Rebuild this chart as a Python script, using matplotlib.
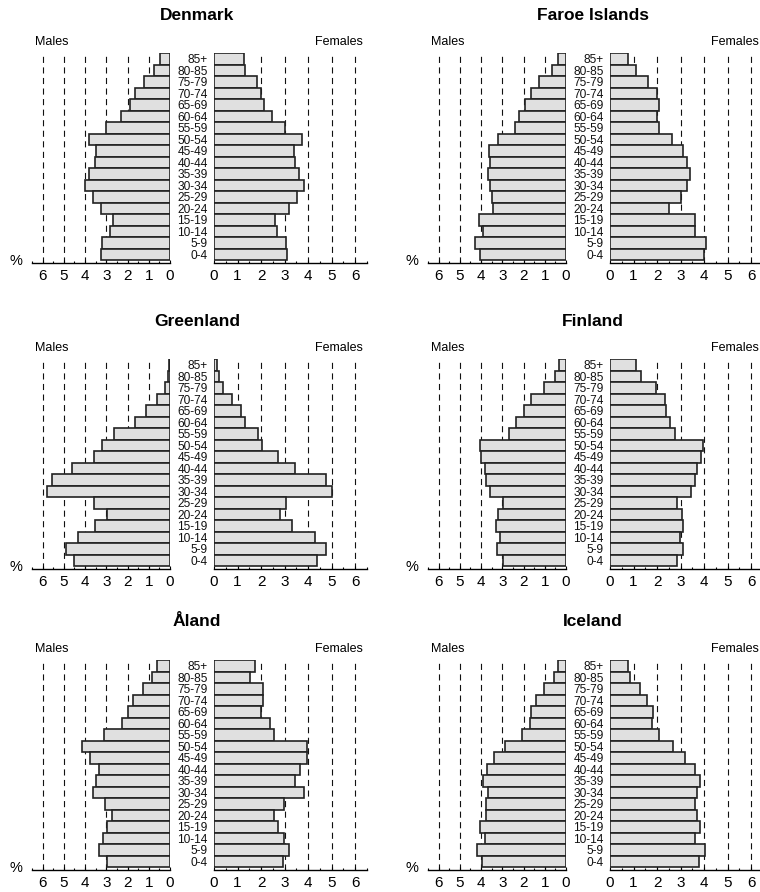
import matplotlib

matplotlib.use("Agg")
import matplotlib.pyplot as plt
import matplotlib.transforms as mtransforms
import numpy as np

plt.rcParams["font.family"] = ["Liberation Sans", "DejaVu Sans"]

# age groups, top of pyramid first
ages = ["85+", "80-85", "75-79", "70-74", "65-69", "60-64", "55-59", "50-54",
        "45-49", "40-44", "35-39", "30-34", "25-29", "20-24", "15-19", "10-14",
        "5-9", "0-4"]

countries = ["Denmark", "Faroe Islands", "Greenland", "Finland", "Åland", "Iceland"]

# percent of population, same order as ages
denmark_m = [0.47, 0.74, 1.24, 1.63, 1.90, 2.32, 3.03, 3.81, 3.47, 3.53, 3.80, 4.02,
             3.64, 3.27, 2.68, 2.81, 3.22, 3.27]
denmark_f = [1.28, 1.30, 1.83, 2.00, 2.14, 2.45, 3.01, 3.73, 3.39, 3.42, 3.63, 3.82,
             3.52, 3.18, 2.61, 2.67, 3.06, 3.11]
faroe_m = [0.39, 0.65, 1.28, 1.67, 1.95, 2.20, 2.38, 3.18, 3.62, 3.57, 3.67, 3.57,
           3.48, 3.45, 4.09, 3.91, 4.30, 4.03]
faroe_f = [0.75, 1.10, 1.61, 1.99, 2.07, 2.01, 2.08, 2.64, 3.09, 3.25, 3.40, 3.29,
           3.02, 2.51, 3.60, 3.59, 4.06, 3.99]
greenland_m = [0.03, 0.08, 0.25, 0.60, 1.11, 1.63, 2.62, 3.22, 3.58, 4.62, 5.54, 5.81,
               3.56, 2.98, 3.52, 4.35, 4.90, 4.54]
greenland_f = [0.11, 0.21, 0.37, 0.77, 1.13, 1.30, 1.86, 2.03, 2.71, 3.45, 4.75, 5.01,
               3.05, 2.81, 3.30, 4.27, 4.74, 4.37]
finland_m = [0.31, 0.54, 1.02, 1.64, 2.00, 2.35, 2.68, 4.03, 4.00, 3.81, 3.75, 3.57,
             2.99, 3.21, 3.28, 3.10, 3.23, 2.96]
finland_f = [1.10, 1.30, 1.97, 2.32, 2.39, 2.55, 2.76, 3.96, 3.87, 3.70, 3.60, 3.43,
             2.86, 3.08, 3.12, 2.98, 3.11, 2.83]
aland_m = [0.63, 0.86, 1.29, 1.74, 1.96, 2.28, 3.09, 4.13, 3.77, 3.36, 3.50, 3.63,
           3.06, 2.75, 2.98, 3.16, 3.34, 2.95]
aland_f = [1.73, 1.55, 2.10, 2.10, 2.01, 2.37, 2.55, 3.94, 3.97, 3.65, 3.43, 3.82,
           2.99, 2.55, 2.70, 2.98, 3.18, 2.92]
iceland_m = [0.39, 0.55, 1.02, 1.39, 1.67, 1.70, 2.05, 2.85, 3.37, 3.72, 3.89, 3.67,
             3.78, 3.76, 4.03, 3.81, 4.19, 3.94]
iceland_f = [0.75, 0.84, 1.28, 1.57, 1.81, 1.78, 2.08, 2.69, 3.18, 3.62, 3.83, 3.68,
             3.62, 3.69, 3.83, 3.59, 4.05, 3.76]

males = [denmark_m, faroe_m, greenland_m, finland_m, aland_m, iceland_m]
females = [denmark_f, faroe_f, greenland_f, finland_f, aland_f, iceland_f]

ticks = [0, 1, 2, 3, 4, 5, 6]

W, H = 760, 892
fig = plt.figure(figsize=(W / 100, H / 100), dpi=100)

col_off = [0, 396]
row_axis = [263, 569, 870]
plot_h = 210

bar_fill = "#e0e0e0"
bar_edge = "#222222"


def px_axes(left, bottom_y, width, height):
    return fig.add_axes([left / W, 1 - bottom_y / H, width / W, height / H])


def style_axis(ax):
    for s in ["top", "right", "left"]:
        ax.spines[s].set_visible(False)
    ax.spines["bottom"].set_linewidth(1.0)
    ax.set_yticks([])
    ax.set_xticks(ticks)
    ax.set_xticks(np.arange(0, 6.51, 0.5), minor=True)
    ax.tick_params(axis="x", which="major", direction="in", length=2.5,
                   width=0.8, labelsize=11, pad=4.5)
    ax.tick_params(axis="x", which="minor", direction="in", length=1.5, width=0.8)
    for t in ticks[1:]:
        ax.axvline(t, color="#111111", lw=0.8, linestyle=(0, (5.5, 4)), zorder=0)


y = np.arange(len(ages))[::-1]

for i, name in enumerate(countries):
    off = col_off[i % 2]
    base = row_axis[i // 2]

    axm = px_axes(32 + off, base, 138, plot_h)
    axf = px_axes(214 + off, base, 153, plot_h)

    axm.barh(y, males[i], height=1.0, color=bar_fill, edgecolor=bar_edge,
             linewidth=1.2, zorder=2)
    axf.barh(y, females[i], height=1.0, color=bar_fill, edgecolor=bar_edge,
             linewidth=1.2, zorder=2)

    axm.set_xlim(6.5, 0)
    axf.set_xlim(0, 6.5)
    for ax in (axm, axf):
        ax.set_ylim(-0.76, 17.5)
        style_axis(ax)

    # age group labels between the halves
    tr = mtransforms.blended_transform_factory(axf.transAxes, axf.transData)
    for yy, lab in zip(y, ages):
        axf.text(-0.04, yy - 0.12, lab, transform=tr, ha="right", va="center",
                 fontsize=8.6, color="#111111")

    axm.text(0.02, 1.0 + 11 / plot_h, "Males", transform=axm.transAxes,
             ha="left", va="center", fontsize=9)
    axf.text(0.975, 1.0 + 11 / plot_h, "Females", transform=axf.transAxes,
             ha="right", va="center", fontsize=9)
    axm.text(-0.12, 0.01, "%", transform=axm.transAxes, ha="center",
             va="center", fontsize=10.5)

    fig.text((197 + off) / W, 1 - (base - plot_h - 38) / H, name,
             ha="center", va="center", fontsize=12.5, fontweight="bold")

fig.savefig("out.png", dpi=100, facecolor="white")
